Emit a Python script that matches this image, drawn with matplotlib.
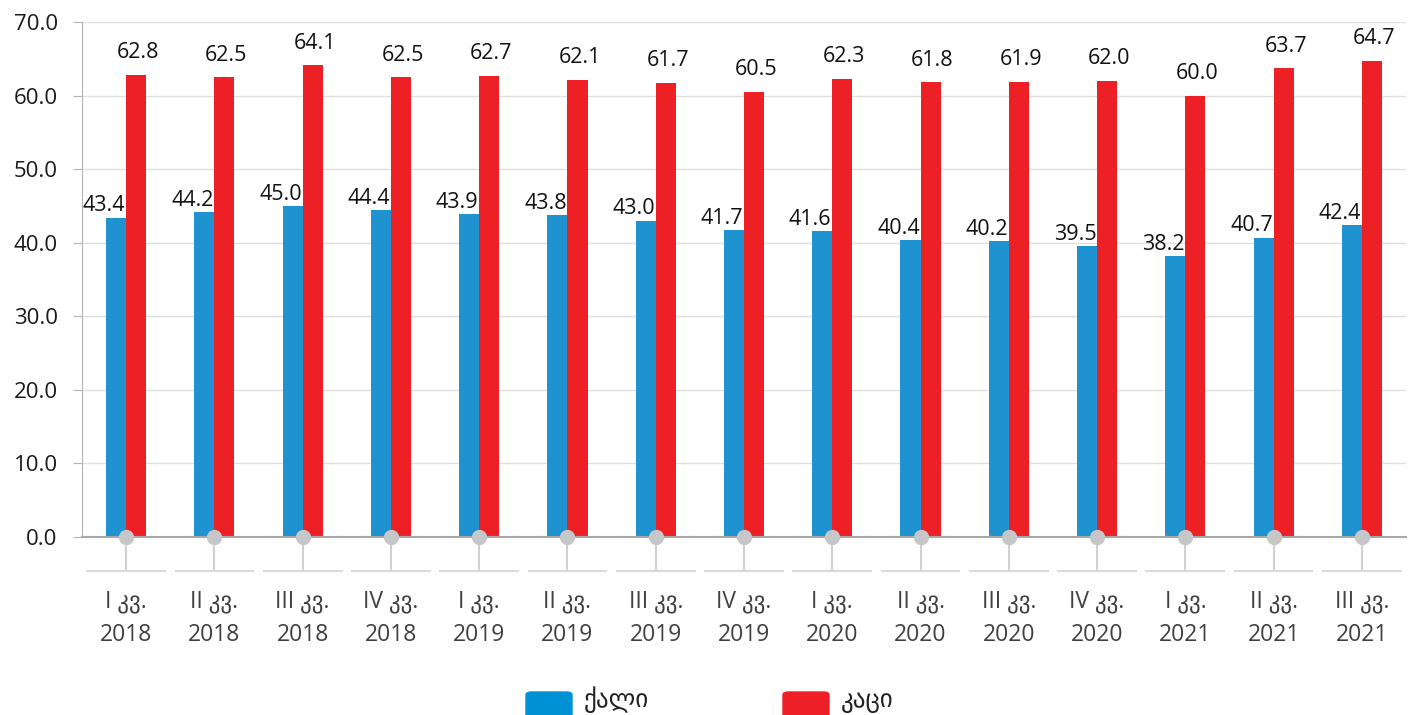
import matplotlib
matplotlib.use("Agg")
import matplotlib.pyplot as plt
import matplotlib.transforms as mtransforms
from matplotlib.patches import FancyBboxPatch
import numpy as np

quarters = ["I კვ.", "II კვ.", "III კვ.", "IV კვ.",
            "I კვ.", "II კვ.", "III კვ.", "IV კვ.",
            "I კვ.", "II კვ.", "III კვ.", "IV კვ.",
            "I კვ.", "II კვ.", "III კვ."]
years = ["2018"] * 4 + ["2019"] * 4 + ["2020"] * 4 + ["2021"] * 3
women = [43.4, 44.2, 45.0, 44.4, 43.9, 43.8, 43.0, 41.7, 41.6, 40.4, 40.2, 39.5, 38.2, 40.7, 42.4]
men = [62.8, 62.5, 64.1, 62.5, 62.7, 62.1, 61.7, 60.5, 62.3, 61.8, 61.9, 62.0, 60.0, 63.7, 64.7]
series_names = ["ქალი", "კაცი"]
yticks = [0, 10, 20, 30, 40, 50, 60, 70]

FONT = ["Open Sans", "DejaVu Sans"]
BLUE = "#1F93D0"
RED = "#ED2026"
LBLUE = "#0091D5"
LRED = "#EE1F26"

fig = plt.figure(figsize=(14.15, 7.15), dpi=100)
ax = fig.add_axes([82 / 1415, 1 - 537 / 715, (1406 - 82) / 1415, (537 - 22) / 715])

x = np.arange(len(women))
w = 0.227
ax.bar(x - w / 2, women, width=w, color=BLUE, zorder=3)
ax.bar(x + w / 2, men, width=w, color=RED, zorder=3)

for i, (a, b) in enumerate(zip(women, men)):
    ax.annotate(f"{a:.1f}", (i - 0.25, a), xytext=(0, 4.5), textcoords="offset points",
                ha="center", va="baseline", fontsize=15.5, color="#111111", family=FONT)
    ax.annotate(f"{b:.1f}", (i + 0.136, b), xytext=(0, 12), textcoords="offset points",
                ha="center", va="baseline", fontsize=15.5, color="#111111", family=FONT)

ax.set_xlim(-0.5, len(women) - 0.5)
ax.set_ylim(0, 70)
ax.set_yticks(yticks)
ax.set_yticklabels([f"{v:.1f}" for v in yticks], fontsize=16, family=FONT, color="#1a1a1a")
ax.grid(axis="y", color="#e0e0e0", lw=1, zorder=0)
ax.set_axisbelow(True)
ax.tick_params(axis="y", length=6.5, color="#b4b4b4", pad=11)

ax.set_xticks(x)
ax.set_xticklabels([f"{q}\n{y}" for q, y in zip(quarters, years)], fontsize=16.5,
                   family=FONT, color="#404040", linespacing=1.5)
ax.tick_params(axis="x", length=0, pad=38)

for s in ["top", "right"]:
    ax.spines[s].set_visible(False)
ax.spines["left"].set_color("#b4b4b4")
ax.spines["bottom"].set_color("#a8a8a8")
ax.spines["bottom"].set_linewidth(1.5)
ax.spines["bottom"].set_zorder(4)

trans = mtransforms.blended_transform_factory(ax.transData, ax.transAxes)
ybot = -34 / 515
for i in x:
    ax.plot([i, i], [0, ybot], transform=trans, color="#d0d0d0", lw=1.5, clip_on=False, zorder=2)
    ax.plot([i - 0.44, i + 0.44], [ybot, ybot], transform=trans, color="#d8d8d8", lw=1.5,
            clip_on=False, zorder=2)
ax.plot(x, [0] * len(x), "o", ms=10, color="#c6c7c9", clip_on=False, zorder=5)

# legend (patches run off the bottom edge like the reference)
for px, col, name in [(526, LBLUE, series_names[0]), (783, LRED, series_names[1])]:
    p = FancyBboxPatch((px / 1415, -8 / 715), 46 / 1415, 31 / 715,
                       boxstyle="round,pad=0,rounding_size=0.004",
                       transform=fig.transFigure, color=col, clip_on=False)
    fig.patches.append(p)
    fig.text((px + 58) / 1415, 2 / 715, name, fontsize=18, family=FONT, color="#222222",
             ha="left", va="bottom")

fig.savefig("out.png", dpi=100)
